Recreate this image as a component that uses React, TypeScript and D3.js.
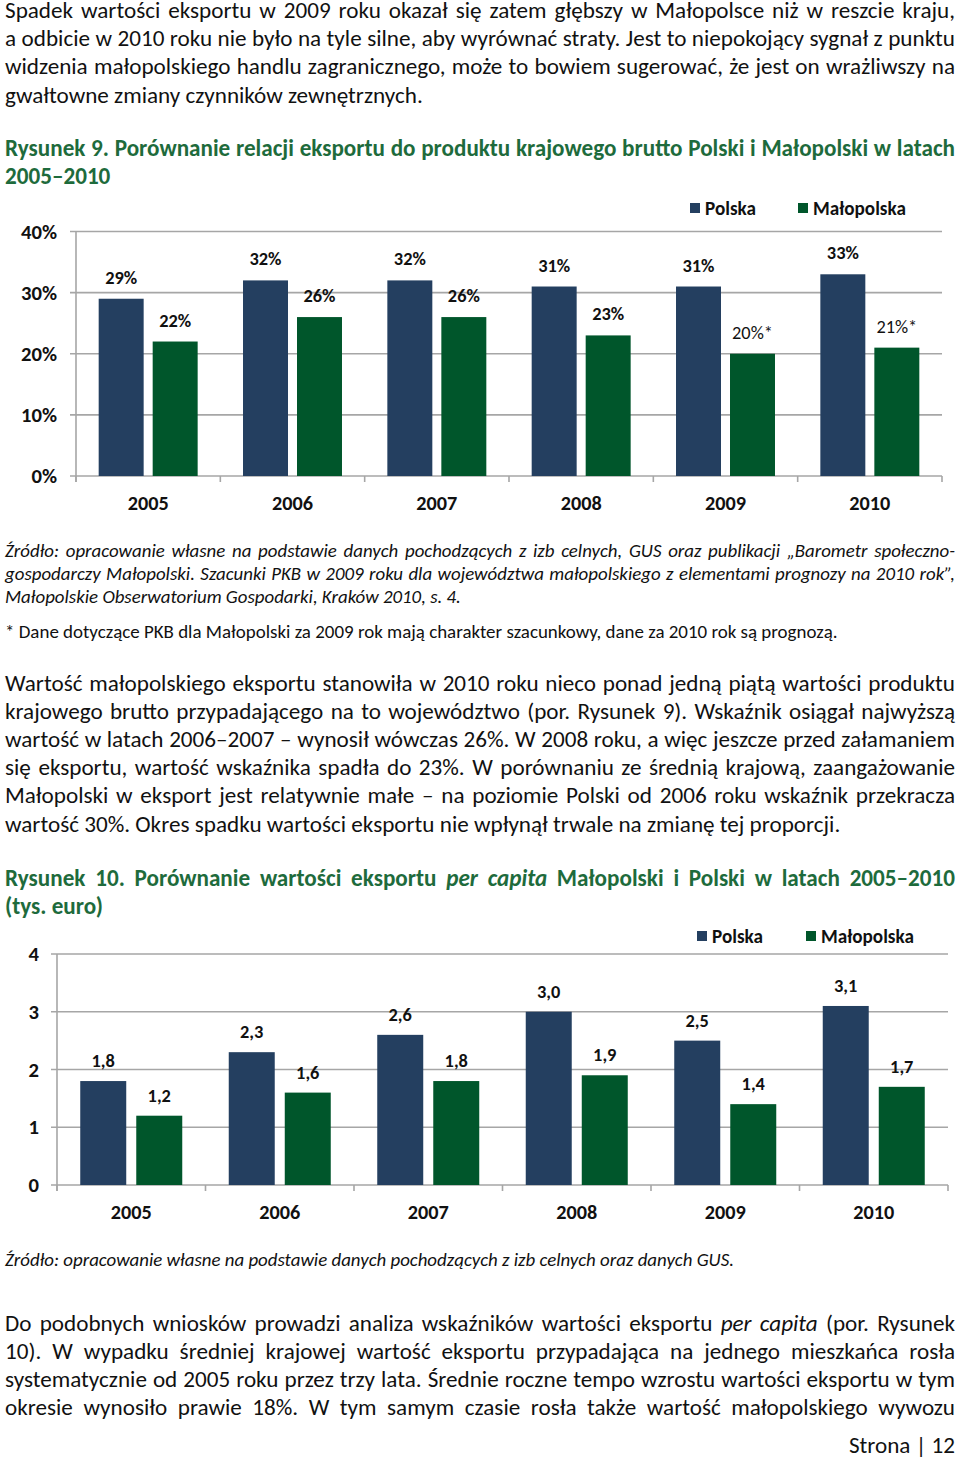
import { useEffect, useRef } from 'react';
import * as d3 from 'd3';

// ---- chart data ----
const years = ['2005', '2006', '2007', '2008', '2009', '2010'];
const seriesNames = ['Polska', 'Małopolska'];

const exportToGdpPolska = [29, 32, 32, 31, 31, 33];
const exportToGdpMalopolska = [22, 26, 26, 23, 20, 21];
const exportToGdpNotes = ['', '', '', '', '*', '*'];
const exportToGdpTicks = [0, 10, 20, 30, 40];

const perCapitaPolska = [1.8, 2.3, 2.6, 3.0, 2.5, 3.1];
const perCapitaMalopolska = [1.2, 1.6, 1.8, 1.9, 1.4, 1.7];
const perCapitaTicks = [0, 1, 2, 3, 4];

// ---- page text (underscore toggles italics) ----
const para1 = [
  'Spadek wartości eksportu w 2009 roku okazał się zatem głębszy w Małopolsce niż w reszcie kraju,',
  'a odbicie w 2010 roku nie było na tyle silne, aby wyrównać straty. Jest to niepokojący sygnał z punktu',
  'widzenia małopolskiego handlu zagranicznego, może to bowiem sugerować, że jest on wrażliwszy na',
  'gwałtowne zmiany czynników zewnętrznych.',
];
const title9 = [
  'Rysunek 9. Porównanie relacji eksportu do produktu krajowego brutto Polski i Małopolski w latach',
  '2005–2010',
];
const source9 = [
  'Źródło: opracowanie własne na podstawie danych pochodzących z izb celnych, GUS oraz publikacji „Barometr społeczno-',
  'gospodarczy Małopolski. Szacunki PKB w 2009 roku dla województwa małopolskiego z elementami prognozy na 2010 rok”,',
  'Małopolskie Obserwatorium Gospodarki, Kraków 2010, s. 4.',
];
const footnote9 = ['* Dane dotyczące PKB dla Małopolski za 2009 rok mają charakter szacunkowy, dane za 2010 rok są prognozą.'];
const para2 = [
  'Wartość małopolskiego eksportu stanowiła w 2010 roku nieco ponad jedną piątą wartości produktu',
  'krajowego brutto przypadającego na to województwo (por. Rysunek 9). Wskaźnik osiągał najwyższą',
  'wartość w latach 2006–2007 – wynosił wówczas 26%. W 2008 roku, a więc jeszcze przed załamaniem',
  'się eksportu, wartość wskaźnika spadła do 23%. W porównaniu ze średnią krajową, zaangażowanie',
  'Małopolski w eksport jest relatywnie małe – na poziomie Polski od 2006 roku wskaźnik przekracza',
  'wartość 30%. Okres spadku wartości eksportu nie wpłynął trwale na zmianę tej proporcji.',
];
const title10 = [
  'Rysunek 10. Porównanie wartości eksportu _per capita_ Małopolski i Polski w latach 2005–2010',
  '(tys. euro)',
];
const source10 = ['Źródło: opracowanie własne na podstawie danych pochodzących z izb celnych oraz danych GUS.'];
const para3 = [
  'Do podobnych wniosków prowadzi analiza wskaźników wartości eksportu _per capita_ (por. Rysunek',
  '10). W wypadku średniej krajowej wartość eksportu przypadająca na jednego mieszkańca rosła',
  'systematycznie od 2005 roku przez trzy lata. Średnie roczne tempo wzrostu wartości eksportu w tym',
  'okresie wynosiło prawie 18%. W tym samym czasie rosła także wartość małopolskiego wywozu',
];

const FONT = 'Carlito, Calibri, Lato, sans-serif';
const NAVY = '#243f60';
const GREEN = '#00562b';
const TITLE_GREEN = '#1e6b3c';
const GRID = '#a6a6a6';
const TEXT = '#111';

const W = 960;
const H = 1463;
const LEFT = 5;
const RIGHT = 955;

type Sel = d3.Selection<SVGGElement, unknown, null, undefined>;

// font size that makes `txt` as wide as `target` pixels in the font that is available
function fitSize(root: Sel, txt: string, target: number, weight = 'normal', style = 'normal') {
  const t = root.append('text')
    .attr('font-family', FONT).attr('font-size', 20)
    .attr('font-weight', weight).attr('font-style', style)
    .style('white-space', 'pre').text(txt);
  const w = (t.node() as SVGTextElement).getComputedTextLength();
  t.remove();
  return w > 0 ? (20 * target) / w : 20;
}

type Block = {
  lines: string[];
  y0: number;
  dy: number;
  size: number;
  bold?: boolean;
  italic?: boolean;
  color?: string;
  justifyAll?: boolean;
};

function drawBlock(root: Sel, b: Block) {
  const g = root.append('g')
    .attr('font-family', FONT)
    .attr('font-size', b.size)
    .attr('font-weight', b.bold ? 'bold' : 'normal')
    .attr('fill', b.color || TEXT);

  b.lines.forEach((line, li) => {
    const y = b.y0 + li * b.dy;
    const segs = line.split('_');
    const isLast = li === b.lines.length - 1;
    const justify = b.justifyAll || !isLast;
    const ital = (i: number) => ((i % 2 === 1) !== !!b.italic ? 'italic' : 'normal');

    if (!justify) {
      const t = g.append('text').attr('x', LEFT).attr('y', y).style('white-space', 'pre');
      segs.forEach((s, i) => t.append('tspan').attr('font-style', ital(i)).text(s));
      return;
    }

    const words: { w: string; st: string }[] = [];
    segs.forEach((s, i) => s.split(' ').filter(Boolean).forEach(w => words.push({ w, st: ital(i) })));
    const nodes = words.map(d => g.append('text').attr('y', y).attr('font-style', d.st).text(d.w));
    const widths = nodes.map(n => (n.node() as SVGTextElement).getComputedTextLength());
    const gap = (RIGHT - LEFT - d3.sum(widths)) / Math.max(1, words.length - 1);
    let cx = LEFT;
    nodes.forEach((n, i) => {
      n.attr('x', cx);
      cx += widths[i] + gap;
    });
  });
}

type ChartOpt = {
  left: number;
  right: number;
  top: number;
  bottom: number;
  max: number;
  ticks: number[];
  tickFmt: (v: number) => string;
  tickX: number;
  polska: number[];
  malopolska: number[];
  notes: string[];
  labelFmt: (v: number) => string;
  labelGap: number;
  yearY: number;
  pi: number;
  po: number;
  legendY: number;
  legendX: number[];
  fs: { tick: number; year: number; val: number; legend: number };
};

function drawChart(root: Sel, o: ChartOpt) {
  const g = root.append('g').attr('font-family', FONT).attr('fill', TEXT);

  const x = d3.scaleBand<string>().domain(years).range([o.left, o.right]).padding(0);
  const xs = d3.scaleBand<string>().domain(seriesNames).range([0, x.bandwidth()])
    .paddingInner(o.pi).paddingOuter(o.po);
  const y = d3.scaleLinear().domain([0, o.max]).range([o.bottom, o.top]);

  // horizontal gridlines
  g.selectAll('line.grid').data(o.ticks).join('line')
    .attr('class', 'grid')
    .attr('x1', o.left - 6).attr('x2', o.right)
    .attr('y1', d => y(d)).attr('y2', d => y(d))
    .attr('stroke', GRID).attr('stroke-width', 1.6);

  // value axis
  g.append('line')
    .attr('x1', o.left).attr('x2', o.left)
    .attr('y1', y(o.max)).attr('y2', o.bottom + 6)
    .attr('stroke', GRID).attr('stroke-width', 1.6);

  // category tick marks
  const edges = years.map(d => x(d) as number).concat([o.right]);
  g.selectAll('line.cat').data(edges).join('line')
    .attr('class', 'cat')
    .attr('x1', d => d).attr('x2', d => d)
    .attr('y1', o.bottom).attr('y2', o.bottom + 6)
    .attr('stroke', GRID).attr('stroke-width', 1.6);

  // tick labels
  g.selectAll('text.tick').data(o.ticks).join('text')
    .attr('class', 'tick')
    .attr('x', o.tickX).attr('y', d => y(d)).attr('dy', '0.35em')
    .attr('text-anchor', 'end')
    .attr('font-size', o.fs.tick).attr('font-weight', 'bold')
    .text(d => o.tickFmt(d));

  const rows = years.map((yr, i) => ({
    yr,
    vals: [
      { s: seriesNames[0], v: o.polska[i], note: '', color: NAVY },
      { s: seriesNames[1], v: o.malopolska[i], note: o.notes[i], color: GREEN },
    ],
  }));

  const grp = g.selectAll('g.year').data(rows).join('g')
    .attr('class', 'year')
    .attr('transform', d => `translate(${x(d.yr)},0)`);

  grp.selectAll('rect').data(d => d.vals).join('rect')
    .attr('x', d => xs(d.s) as number)
    .attr('width', xs.bandwidth())
    .attr('y', d => y(d.v))
    .attr('height', d => o.bottom - y(d.v))
    .attr('fill', d => d.color);

  grp.selectAll('text.val').data(d => d.vals).join('text')
    .attr('class', 'val')
    .attr('x', d => (xs(d.s) as number) + xs.bandwidth() / 2)
    .attr('y', d => y(d.v) - o.labelGap)
    .attr('text-anchor', 'middle')
    .attr('font-size', o.fs.val)
    .attr('font-weight', d => (d.note ? 'normal' : 'bold'))
    .text(d => o.labelFmt(d.v) + d.note);

  grp.append('text')
    .attr('x', x.bandwidth() / 2)
    .attr('y', o.yearY)
    .attr('text-anchor', 'middle')
    .attr('font-size', o.fs.year).attr('font-weight', 'bold')
    .text(d => d.yr);

  // legend
  const lg = g.selectAll('g.legend').data(seriesNames).join('g')
    .attr('class', 'legend')
    .attr('transform', (d, i) => `translate(${o.legendX[i]},${o.legendY})`);
  lg.append('rect').attr('x', 0).attr('y', -5).attr('width', 10).attr('height', 10)
    .attr('fill', (d, i) => (i === 0 ? NAVY : GREEN));
  lg.append('text').attr('x', 15).attr('y', 0).attr('dy', '0.35em')
    .attr('font-size', o.fs.legend).attr('font-weight', 'bold')
    .text(d => d);
}

export default function App() {
  const svgRef = useRef<SVGSVGElement>(null);

  useEffect(() => {
    if (!svgRef.current) return;

    const draw = () => {
      const svg = d3.select(svgRef.current);
      svg.selectAll('*').remove();
      svg.append('rect').attr('width', W).attr('height', H).attr('fill', '#fff');
      const root = svg.append('g') as unknown as Sel;

      // sizes calibrated on widths
      const body = fitSize(root, 'gwałtowne zmiany czynników zewnętrznych.', 418);
      const small = fitSize(root, footnote9[0], 833);
      const smallIt = fitSize(root, source9[2], 456, 'normal', 'italic');
      const fs = {
        tick: fitSize(root, '40%', 36, 'bold'),
        year: fitSize(root, '2005', 41, 'bold'),
        val: fitSize(root, '29%', 32, 'bold'),
        legend: fitSize(root, 'Małopolska', 93, 'bold'),
      };

      drawBlock(root, { lines: para1, y0: 18, dy: 28.2, size: body });
      drawBlock(root, { lines: title9, y0: 156, dy: 28, size: body, bold: true, color: TITLE_GREEN });
      drawBlock(root, { lines: source9, y0: 557, dy: 23, size: smallIt, italic: true });
      drawBlock(root, { lines: footnote9, y0: 638, dy: 23, size: small });
      drawBlock(root, { lines: para2, y0: 691, dy: 28.1, size: body });
      drawBlock(root, { lines: title10, y0: 886, dy: 28, size: body, bold: true, color: TITLE_GREEN });
      drawBlock(root, { lines: source10, y0: 1266, dy: 23, size: smallIt, italic: true });
      drawBlock(root, { lines: para3, y0: 1331, dy: 28, size: body, justifyAll: true });

      root.append('text')
        .attr('x', RIGHT).attr('y', 1453)
        .attr('text-anchor', 'end')
        .attr('font-family', FONT).attr('font-size', body).attr('fill', TEXT)
        .text('Strona | 12');

      drawChart(root, {
        left: 76, right: 942, top: 231.5, bottom: 476, max: 40,
        ticks: exportToGdpTicks, tickFmt: v => `${v}%`, tickX: 57,
        polska: exportToGdpPolska, malopolska: exportToGdpMalopolska, notes: exportToGdpNotes,
        labelFmt: v => `${v}%`, labelGap: 15, yearY: 510,
        pi: 0.167, po: 0.42,
        legendY: 208, legendX: [690, 798], fs,
      });

      drawChart(root, {
        left: 57, right: 948, top: 954, bottom: 1185, max: 4,
        ticks: perCapitaTicks, tickFmt: v => `${v}`, tickX: 39,
        polska: perCapitaPolska, malopolska: perCapitaMalopolska, notes: years.map(() => ''),
        labelFmt: v => d3.format('.1f')(v).replace('.', ','), labelGap: 14, yearY: 1219,
        pi: 0.179, po: 0.415,
        legendY: 936, legendX: [697, 806], fs,
      });
    };

    draw();
    if (document.fonts && document.fonts.ready) document.fonts.ready.then(draw);
  }, []);

  return (
    <svg
      ref={svgRef}
      width={W}
      height={H}
      viewBox={`0 0 ${W} ${H}`}
      style={{ position: 'absolute', left: 0, top: 0 }}
    />
  );
}
